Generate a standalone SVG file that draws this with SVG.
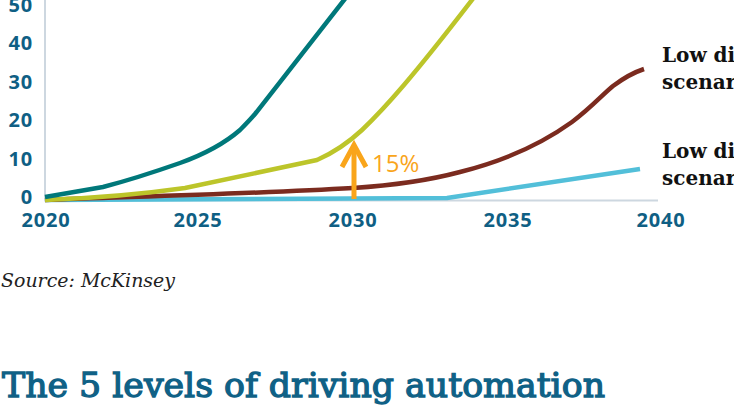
<svg xmlns="http://www.w3.org/2000/svg" width="734" height="410" viewBox="0 0 734 410">
<style>
.tick{font-family:"Open Sans","Liberation Sans",sans-serif;font-weight:700;font-size:20px;fill:#0f5f84;letter-spacing:0.8px}
.line{fill:none;stroke-width:4.5;stroke-linejoin:round;stroke-linecap:butt}
.lab{font-family:"DejaVu Serif","Liberation Serif",serif;font-weight:700;font-size:20px;fill:#111}
</style>
<rect width="734" height="410" fill="#ffffff"/>
<g id="axes" stroke="#cdd7e0" stroke-width="2">
<line x1="45" y1="0" x2="45" y2="201"/>
<line x1="44" y1="200.5" x2="658" y2="200.5"/>
</g>
<g id="y-labels" class="tick" text-anchor="end">
<text x="33" y="11.5">50</text>
<text x="33" y="50">40</text>
<text x="33" y="88.5">30</text>
<text x="33" y="127">20</text>
<text x="33" y="166">10</text>
<text x="33" y="204">0</text>
</g>
<g id="x-labels" class="tick" text-anchor="middle">
<text x="46" y="227">2020</text>
<text x="198" y="227">2025</text>
<text x="353" y="227">2030</text>
<text x="508" y="227">2035</text>
<text x="661" y="227">2040</text>
</g>
<g id="series">
<path class="line" stroke="#52bfd9" d="M45,200 L447,198 L640,169"/>
<path class="line" stroke="#7b2b1f" d="M45,200 C120,197 250,194 353,188 C400,185 430,180 460,172 C500,162 540,145 572,122 C592,107 602,95 613,86 C625,77 635,72 644,69"/>
<path class="line" stroke="#bcc52a" d="M45,200 C100,198 150,193 185,188 L317,160 C333,153 348,143 362,130 C385,108 412,78 475,-4"/>
<path class="line" stroke="#00787a" d="M45,197 L103,187 C130,180 160,170 180,163 C205,154 225,143 240,130 C245,125 250,120 255,114 L348,-5"/>
</g>
<g id="arrow" stroke="#f9a51b" stroke-width="5" fill="none">
<line x1="354" y1="199" x2="354" y2="147"/>
<polyline points="342,167 354,145 366,167" stroke-linejoin="miter"/>
</g>
<text x="372" y="172" font-family="'Open Sans','Liberation Sans',sans-serif" font-size="24" fill="#f9a51b">15%</text>
<g id="legend" class="lab">
<text x="662" y="62">Low di</text>
<text x="662" y="89">scenar</text>
<text x="662" y="158">Low di</text>
<text x="662" y="185">scenar</text>
</g>
<text x="1" y="287" font-family="'DejaVu Serif','Liberation Serif',serif" font-style="italic" font-size="18" fill="#222" textLength="174" lengthAdjust="spacingAndGlyphs">Source: McKinsey</text>
<text x="2" y="397" font-family="'DejaVu Serif','Liberation Serif',serif" font-size="34" fill="#0f6186" stroke="#0f6186" stroke-width="1.3" textLength="603" lengthAdjust="spacingAndGlyphs">The 5 levels of driving automation</text>
</svg>
